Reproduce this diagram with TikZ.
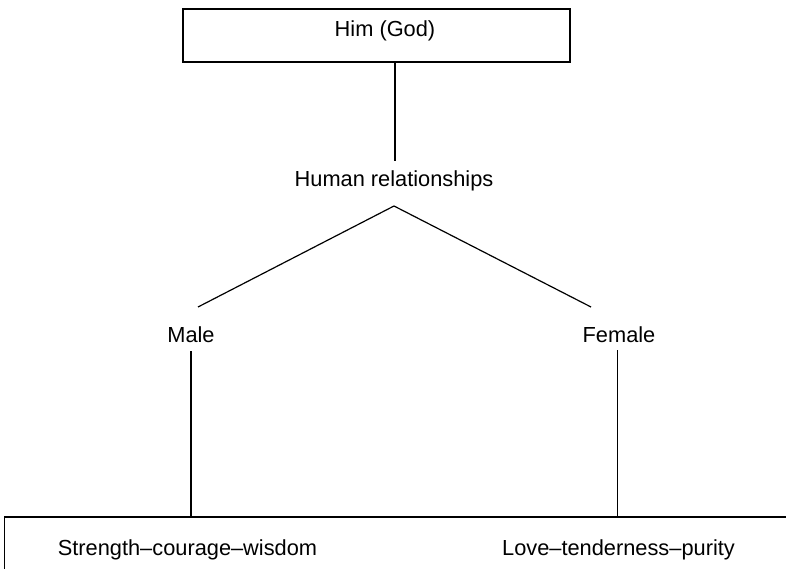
\documentclass[tikz,border=0pt]{standalone}
\usepackage{fontspec}
\setmainfont{Liberation Sans}
\begin{document}
\begin{tikzpicture}[x=1pt,y=-1pt, line width=1.2pt,
  lbl/.style={inner sep=0pt, outer sep=0pt, text height=15.6pt, text depth=0pt,
              anchor=base, font=\fontsize{21.8}{26}\selectfont},
  frame/.style={draw, rectangle, inner sep=0pt, outer sep=0pt},
  link/.style={draw}]
  \useasboundingbox (0,0) rectangle (786,569);
  \clip (0,0) rectangle (786,569);

  % top box
  \node[frame, minimum width=387pt, minimum height=53pt] (godbox) at (376.5,35.5) {};
  \node[lbl] (godtext) at (385,37) {Him (God)};

  % middle labels
  \node[lbl] (hr) at (394,187) {Human relationships};
  \node[lbl] (male) at (191,342) {Male};
  \node[lbl] (female) at (619,342) {Female};

  % bottom box, running off the page
  \node[frame, anchor=north west, minimum width=900pt, minimum height=120pt] (traits) at (4.5,517) {};
  \node[lbl] (strength) at (187.5,555) {Strength--courage--wisdom};
  \node[lbl] (love) at (618.5,555) {Love--tenderness--purity};

  % connectors
  \coordinate (apex) at ([yshift=-19pt]hr.south);
  \coordinate (lend) at (198,307);
  \coordinate (rend) at (591,307);

  \draw[link] ([xshift=1pt]hr.north |- godbox.south) -- ([xshift=1pt,yshift=10pt]hr.north);
  \draw[link] (apex) -- (lend);
  \draw[link] (apex) -- (rend);
  \draw[link] ([yshift=-9pt]male.south) -- (male.south |- traits.north);
  \draw[link] ([xshift=-1.5pt,yshift=-8pt]female.south) -- ([xshift=-1.5pt]female.south |- traits.north);
\end{tikzpicture}
\end{document}
